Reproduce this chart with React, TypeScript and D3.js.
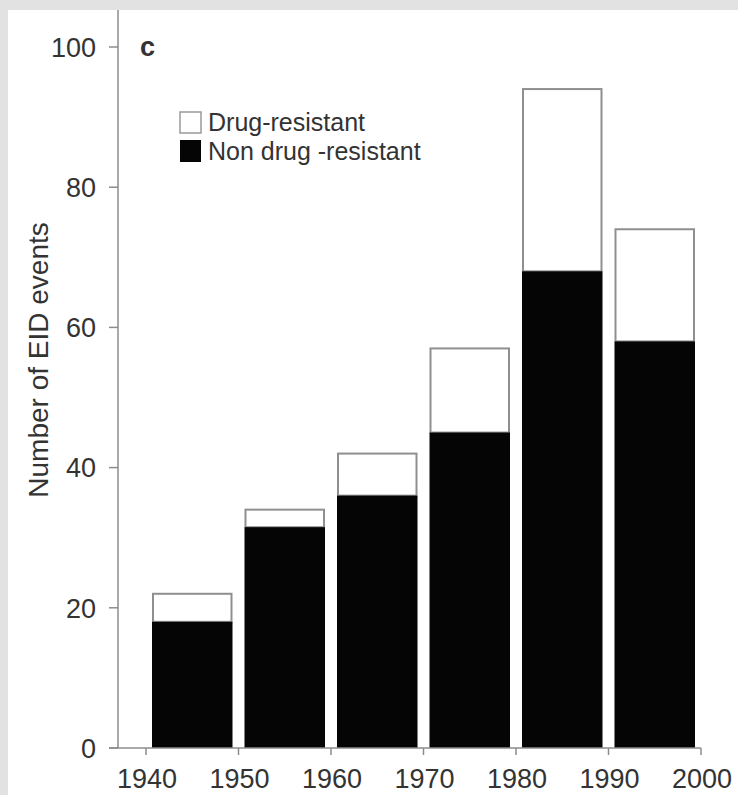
import React from "react";
import * as d3 from "d3";

const decades = [1940, 1950, 1960, 1970, 1980, 1990];
const nonResistant = [18, 31.5, 36, 45, 68, 58];
const drugResistant = [4, 2.5, 6, 12, 26, 16];
const xTicks = [1940, 1950, 1960, 1970, 1980, 1990, 2000];
const yTicks = [0, 20, 40, 60, 80, 100];
const legendLabels = ["Drug-resistant", "Non drug -resistant"];
const yTitle = "Number of EID events";
const panelLabel = "c";

const W = 738;
const H = 795;
const FONT = "'Liberation Sans', Arial, Helvetica, sans-serif";
const TEXT = "#333333";
const AXIS = "#8c8c8c";

export default function App() {
  const x = d3.scaleLinear().domain([1940, 2000]).range([146, 701]);
  const y = d3.scaleLinear().domain([0, 100]).range([748, 47]);
  const inset = 7;
  const axisX = 118;

  return (
    <svg
      width={W}
      height={H}
      style={{ position: "absolute", left: 0, top: 0, display: "block" }}
      fontFamily={FONT}
    >
      <rect x={0} y={0} width={W} height={H} fill="#e2e2e2" />
      <rect x={8} y={10} width={W - 8} height={H - 10} fill="#ffffff" />

      {/* bars */}
      {decades.map((d, i) => {
        const x0 = x(d) + inset;
        const x1 = x(d + 10) - inset;
        const nonTop = y(nonResistant[i]);
        const totTop = y(nonResistant[i] + drugResistant[i]);
        return (
          <g key={d}>
            <rect
              x={x0}
              y={totTop}
              width={x1 - x0}
              height={nonTop - totTop}
              fill="#ffffff"
              stroke="#8f8f8f"
              strokeWidth={2}
            />
            <rect
              x={x0 - 1}
              y={nonTop}
              width={x1 - x0 + 2}
              height={y(0) - nonTop}
              fill="#050505"
            />
          </g>
        );
      })}

      {/* y axis */}
      <line x1={axisX} x2={axisX} y1={10} y2={y(0)} stroke={AXIS} strokeWidth={1.5} />
      {yTicks.map((t) => (
        <g key={t}>
          <line x1={axisX - 9} x2={axisX} y1={y(t)} y2={y(t)} stroke={AXIS} strokeWidth={1.5} />
          <text
            x={96}
            y={y(t)}
            dy="0.36em"
            textAnchor="end"
            fontSize={27}
            fill={TEXT}
          >
            {t}
          </text>
        </g>
      ))}

      {/* x axis */}
      <line x1={axisX - 9} x2={x(2000)} y1={y(0)} y2={y(0)} stroke={AXIS} strokeWidth={1.5} />
      {xTicks.map((t) => (
        <g key={t}>
          <line x1={x(t)} x2={x(t)} y1={y(0)} y2={y(0) + 7} stroke={AXIS} strokeWidth={1.5} />
          <text x={x(t) + 1} y={788} textAnchor="middle" fontSize={27} fill={TEXT}>
            {t}
          </text>
        </g>
      ))}

      {/* y title */}
      <text
        transform={`translate(48, 360) rotate(-90)`}
        textAnchor="middle"
        fontSize={28}
        fill={TEXT}
      >
        {yTitle}
      </text>

      {/* panel label */}
      <text x={140} y={56} fontSize={27} fontWeight="bold" fill={TEXT}>
        {panelLabel}
      </text>

      {/* legend */}
      <rect x={180} y={112} width={21} height={21} fill="#ffffff" stroke="#9a9a9a" strokeWidth={1.5} />
      <rect x={180} y={140} width={21} height={22} fill="#050505" />
      <text x={208} y={131} fontSize={25} fill={TEXT}>
        {legendLabels[0]}
      </text>
      <text x={208} y={160} fontSize={25} fill={TEXT}>
        {legendLabels[1]}
      </text>
    </svg>
  );
}
